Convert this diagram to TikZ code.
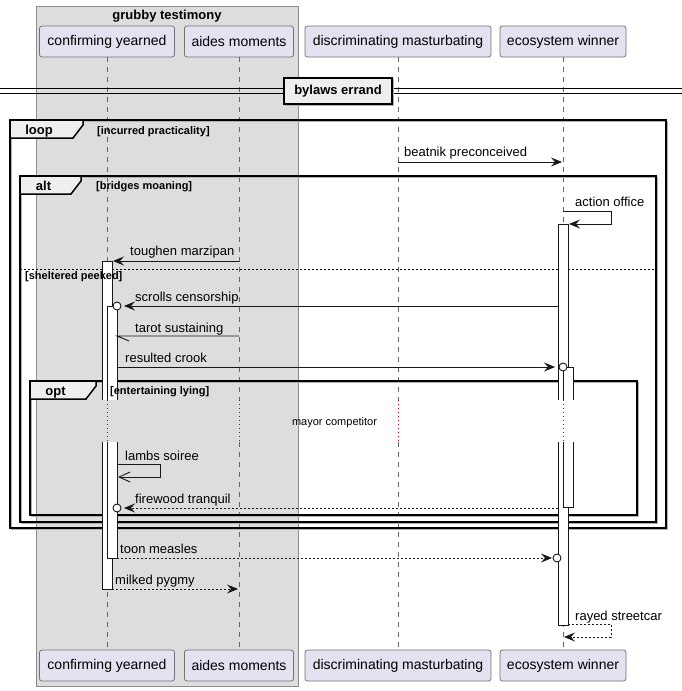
\documentclass[tikz,border=0pt]{standalone}
\usepackage{fontspec}
\setmainfont{Liberation Sans}
\usetikzlibrary{arrows.meta}

\definecolor{partfill}{HTML}{E2E2F0}
\definecolor{boxfill}{HTML}{DDDDDD}
\definecolor{tabfill}{HTML}{EEEEEE}
\definecolor{ink}{HTML}{181818}
\definecolor{delayred}{HTML}{A80036}

\tikzset{
  part/.style={draw=black!55, line width=0.8pt, fill=partfill, rounded corners=2.5pt,
    minimum height=31pt, inner sep=0pt, font=\fontsize{14}{16}\selectfont},
  lifeline/.style={draw=black!60, line width=0.6pt, dash pattern=on 5pt off 5pt},
  delayline/.style={draw=delayred, line width=0.8pt, dash pattern=on 1pt off 3pt},
  actline/.style={draw=ink, line width=0.9pt},
  msg/.style={draw=ink, line width=0.9pt, -{Stealth[length=11pt,width=9pt,inset=4pt]}},
  reply/.style={msg, dash pattern=on 2pt off 2pt},
  plainmsg/.style={draw=ink, line width=0.9pt},
  openmsg/.style={draw=ink, line width=0.9pt, -{Straight Barb[length=11pt,width=10pt]}},
  lollipop/.style={draw=ink, line width=0.9pt, fill=white},
  msgtext/.style={font=\fontsize{13}{15}\selectfont, anchor=base west, inner sep=0pt},
  frameline/.style={draw=black, line width=1.5pt},
  frameshadow/.style={draw=black!30, line width=1.2pt},
  tab/.style={draw=black, line width=1.5pt, fill=tabfill},
  tabtext/.style={font=\bfseries\fontsize{13}{15}\selectfont, anchor=base, inner sep=0pt},
  guard/.style={font=\bfseries\fontsize{11}{13}\selectfont, anchor=base west, inner sep=0pt},
}

% activation bar: x-left, x-right, top, bottom; broken over the delay rows 400..442
\newcommand\ActBar[4]{%
  \fill[white] (#1,#3) rectangle (#2,400);
  \fill[white] (#1,442) rectangle (#2,#4);
  \draw[actline] (#1,400) -- (#1,#3) -- (#2,#3) -- (#2,400);
  \draw[actline] (#1,442) -- (#1,#4) -- (#2,#4) -- (#2,442);
}

% combined fragment: left, top, right, bottom, tab right edge, keyword
\newcommand\Fragment[6]{%
  \draw[frameshadow] (#1+1.5,#2+1.5) rectangle (#3+1.5,#4+1.5);
  \draw[frameline] (#1,#2) rectangle (#3,#4);
  \draw[tab] (#1,#2) -- (#5,#2) -- (#5,#2+5) -- (#5-10,#2+18) -- (#1,#2+18) -- cycle;
}

\begin{document}
\begin{tikzpicture}[x=1pt,y=-1pt]
\useasboundingbox (0,0) rectangle (682,691);
\fill[white] (0,0) rectangle (682,691);

% participant box
\draw[fill=boxfill, draw=black!45, line width=0.8pt] (36,6) rectangle (298,686);
\node[font=\bfseries\fontsize{13}{15}\selectfont, anchor=base, inner sep=0pt] (boxtitle) at (167,19.5) {grubby testimony};

% participants, top and bottom
\node[part, minimum width=135pt] (cyT) at (107,41.5) {confirming yearned};
\node[part, minimum width=109pt] (amT) at (239,41.5) {aides moments};
\node[part, minimum width=186pt] (dmT) at (398,41.5) {discriminating masturbating};
\node[part, minimum width=126pt] (ewT) at (563,41.5) {ecosystem winner};
\node[part, minimum width=135pt] (cyB) at (107,665.5) {confirming yearned};
\node[part, minimum width=109pt] (amB) at (239,665.5) {aides moments};
\node[part, minimum width=186pt] (dmB) at (398,665.5) {discriminating masturbating};
\node[part, minimum width=126pt] (ewB) at (563,665.5) {ecosystem winner};

% delay rows
\coordinate (dlyTop) at (0,400);
\coordinate (dlyBot) at (0,442);

% lifelines
\foreach \p in {cy,am,dm,ew}{
  \draw[lifeline] (\p T.south) -- (\p T.south |- dlyTop);
  \draw[delayline] (\p T.south |- dlyTop) -- (\p T.south |- dlyBot);
  \draw[lifeline] (\p T.south |- dlyBot) -- (\p B.north);
}

% fragments
\Fragment{10}{120}{666}{528}{83}{loop}
\Fragment{20}{176}{656}{522}{81}{alt}
\Fragment{30}{381}{637}{515}{96}{opt}
\draw[draw=black, line width=0.8pt, dash pattern=on 2pt off 2pt] (20,269) -- (656,269);

% activation bars
\ActBar{102}{112}{261}{589}
\ActBar{107}{117}{306}{558}
\ActBar{558}{568}{224}{625}
\ActBar{563}{573}{367}{507}

% fragment labels
\node[tabtext] (kLoop) at (39,134.5) {loop};
\node[guard] (gLoop) at (97,134) {[incurred practicality]};
\node[tabtext] (kAlt) at (43.5,190) {alt};
\node[guard] (gAlt) at (96,189) {[bridges moaning]};
\node[guard] (gElse) at (25,279.5) {[sheltered peeked]};
\node[tabtext] (kOpt) at (55.5,395) {opt};
\node[guard] (gOpt) at (110,394.5) {[entertaining lying]};
\node[font=\fontsize{11}{13}\selectfont, anchor=base, inner sep=0pt] (delaytxt) at (334.5,425.5) {mayor competitor};

% message end points
\coordinate (a1) at (398,162);  \coordinate (b1) at (562,162);
\coordinate (a2) at (563,211);  \coordinate (c2) at (611,211);
\coordinate (d2) at (611,224);  \coordinate (b2) at (569,224);
\coordinate (a3) at (239,261);  \coordinate (b3) at (113,261);
\coordinate (a4) at (558,306);  \coordinate (b4) at (124,306);  \coordinate (o4) at (117,306);
\coordinate (a5) at (239,336);  \coordinate (b5) at (117,336);
\coordinate (a6) at (117,367);  \coordinate (b6) at (555,367);  \coordinate (o6) at (563,367);
\coordinate (a7) at (117,464);  \coordinate (c7) at (160,464);
\coordinate (d7) at (160,477);  \coordinate (b7) at (118,477);
\coordinate (a8) at (558,508);  \coordinate (b8) at (124,508);  \coordinate (o8) at (117,508);
\coordinate (a9) at (117,558);  \coordinate (b9) at (552,558);  \coordinate (o9) at (557,558);
\coordinate (a10) at (112,589); \coordinate (b10) at (238,589);
\coordinate (a11) at (568,624); \coordinate (c11) at (611,624);
\coordinate (d11) at (611,637); \coordinate (b11) at (564,637);

% messages
\draw[msg] (a1) -- (b1);
\draw[msg] (a2) -- (c2) -- (d2) -- (b2);
\draw[msg] (a3) -- (b3);
\draw[msg] (a4) -- (b4);
\draw[lollipop] (o4) circle (4pt);
\draw[plainmsg] (a5) -- (b5) -- ++(12,5);
\draw[msg] (a6) -- (b6);
\draw[lollipop] (o6) circle (4pt);
\draw[openmsg] (a7) -- (c7) -- (d7) -- (b7);
\draw[reply] (a8) -- (b8);
\draw[lollipop] (o8) circle (4pt);
\draw[reply] (a9) -- (b9);
\draw[lollipop] (o9) circle (4pt);
\draw[reply] (a10) -- (b10);
\draw[reply] (a11) -- (c11) -- (d11) -- (b11);

% message labels
\node[msgtext] (t1) at (404,156) {beatnik preconceived};
\node[msgtext] (t2) at (575,206.5) {action office};
\node[msgtext] (t3) at (130,255.5) {toughen marzipan};
\node[msgtext] (t4) at (135,301) {scrolls censorship};
\node[msgtext] (t5) at (135,332) {tarot sustaining};
\node[msgtext] (t6) at (125,362) {resulted crook};
\node[msgtext] (t7) at (125,460) {lambs soiree};
\node[msgtext] (t8) at (135,503) {firewood tranquil};
\node[msgtext] (t9) at (120,553.5) {toon measles};
\node[msgtext] (t10) at (115,584.5) {milked pygmy};
\node[msgtext] (t11) at (575,620) {rayed streetcar};

% divider
\draw[draw=black, line width=1pt] (0,88.7) -- (682,88.7);
\draw[draw=black, line width=1pt] (0,93) -- (682,93);
\draw[black!30, line width=1.2pt] (285.5,79.5) rectangle (393.5,105.5);
\node[draw=black, line width=1.5pt, fill=tabfill, minimum width=108pt, minimum height=26pt,
      inner sep=0pt, font=\bfseries\fontsize{13}{15}\selectfont] (divider) at (338,91) {bylaws errand};
\end{tikzpicture}
\end{document}
